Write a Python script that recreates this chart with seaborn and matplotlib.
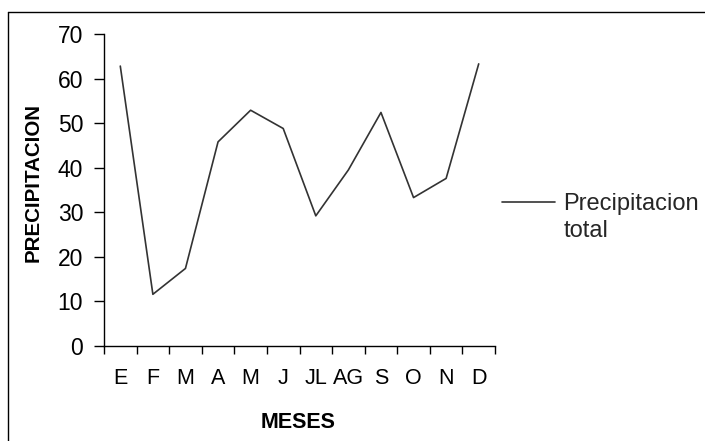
import numpy as np
import pandas as pd
import matplotlib
matplotlib.use("Agg")
import matplotlib.pyplot as plt
import seaborn as sns
from matplotlib.lines import Line2D
from matplotlib.legend_handler import HandlerLine2D

# Monthly total precipitation
meses = ["E", "F", "M", "A", "M", "J", "JL", "AG", "S", "O", "N", "D"]
precipitacion = [62.8, 11.6, 17.4, 45.8, 52.9, 48.8, 29.2, 39.5, 52.4, 33.3, 37.6, 63.3]
y_ticks = [0, 10, 20, 30, 40, 50, 60, 70]
serie = "Precipitacion\ntotal"

sns.set_style("ticks")
plt.rcParams["font.family"] = ["Liberation Sans", "DejaVu Sans"]

LEG_FS = 17
LEG_SPACING = 1.3


class FirstLineHandler(HandlerLine2D):
    """Legend line aligned with the first line of a two-line label."""

    def create_artists(self, legend, orig_handle, xdescent, ydescent,
                       width, height, fontsize, trans):
        arts = super().create_artists(legend, orig_handle, xdescent, ydescent,
                                      width, height, fontsize, trans)
        for a in arts:
            a.set_ydata(np.asarray(a.get_ydata(), dtype=float)
                        + 0.5 * LEG_SPACING * fontsize)
        return arts


W, H = 705, 441
fig = plt.figure(figsize=(W / 100, H / 100), dpi=100)
ax = fig.add_axes([104 / W, 1 - 346 / H, (495 - 104) / W, (346 - 34) / H])

df = pd.DataFrame({"pos": np.arange(len(meses)), "precip": precipitacion})
sns.lineplot(data=df, x="pos", y="precip", ax=ax, color="#333333",
             linewidth=1.2, label=serie)

ax.set_xlim(-0.5, len(meses) - 0.5)
ax.set_ylim(0, 70)

# tick marks between months, month letters centred under each point
ax.set_xticks(np.arange(-0.5, len(meses), 1))
ax.set_xticklabels([])
ax.set_xticks(np.arange(len(meses)), minor=True)
ax.set_xticklabels(meses, minor=True)
ax.tick_params(axis="x", which="major", length=6, width=1, color="black", direction="out")
ax.tick_params(axis="x", which="minor", length=0, pad=16, labelsize=15.5, labelcolor="black")

ax.set_yticks(y_ticks)
ax.tick_params(axis="y", length=7, width=1, color="black", direction="out",
               pad=8, labelsize=16.5, labelcolor="black")

sns.despine(ax=ax)
for s in ("left", "bottom"):
    ax.spines[s].set_color("black")
    ax.spines[s].set_linewidth(1)

ax.set_xlabel("MESES", fontweight="bold", fontsize=15.5, color="black")
ax.xaxis.set_label_coords((298 - 104) / 391, -0.2115)
ax.set_ylabel("PRECIPITACION", fontweight="bold", fontsize=14.8, color="black")
ax.yaxis.set_label_coords((43 - 104) / 391, (346 - 182.5) / 312)

leg = ax.legend(loc="center left", bbox_to_anchor=(502 / W, 1 - 217.5 / H),
                bbox_transform=fig.transFigure, frameon=False, fontsize=LEG_FS,
                handlelength=2.25, handletextpad=0.34, borderpad=0, borderaxespad=0,
                handler_map={Line2D: FirstLineHandler()})
for t in leg.get_texts():
    t.set_linespacing(LEG_SPACING)

# outer chart frame
fig.add_artist(Line2D([8 / W, 8 / W], [0, 1 - 12 / H], transform=fig.transFigure,
                      color="black", linewidth=1))
fig.add_artist(Line2D([8 / W, 1], [1 - 12 / H, 1 - 12 / H], transform=fig.transFigure,
                      color="black", linewidth=1))

fig.savefig("out.png", dpi=100, facecolor="white")
